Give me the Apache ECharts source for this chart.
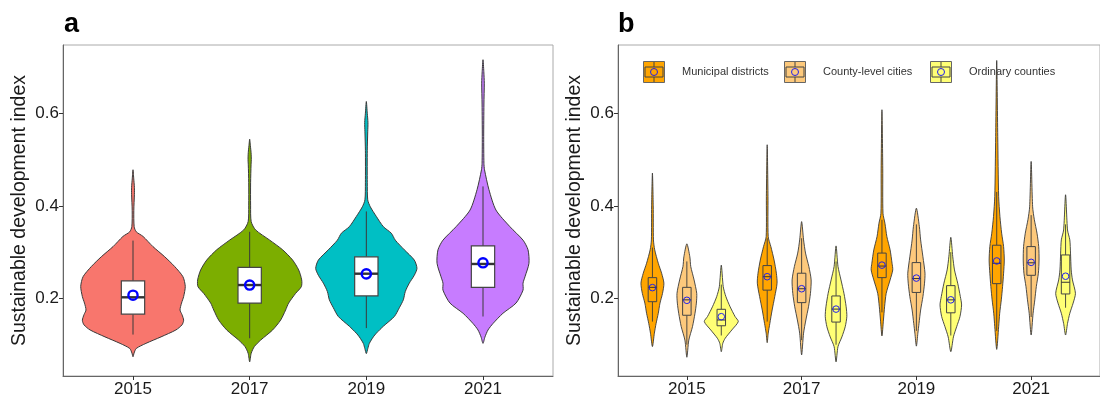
<!DOCTYPE html>
<html><head><meta charset="utf-8">
<script src="https://cdn.jsdelivr.net/npm/echarts@6/dist/echarts.min.js"></script>
<style>html,body{margin:0;padding:0;background:#fff}#c{width:1100px;height:400px}</style>
</head><body><div id="c"></div>
<script>
// ---------- DATA ----------
const years = ['2015', '2017', '2019', '2021'];
const yTicks = [0.2, 0.4, 0.6];
const groupNames = ['Municipal districts', 'County-level cities', 'Ordinary counties'];
const yTitle = 'Sustainable development index';

// Panel a: violin profiles [value, half-width (category units)]
const a2015 = [[0.074,0],[0.082,0.009],[0.092,0.028],[0.103,0.111],[0.117,0.240],[0.132,0.368],[0.143,0.420],[0.153,0.434],[0.165,0.420],[0.175,0.403],[0.190,0.416],[0.204,0.434],[0.226,0.448],[0.247,0.428],[0.269,0.357],[0.290,0.272],[0.312,0.171],[0.334,0.086],[0.344,0.028],[0.355,0.010],[0.390,0.007],[0.425,0.012],[0.440,0.012],[0.460,0.006],[0.478,0]];
const a2017 = [[0.063,0],[0.0815,0.013],[0.096,0.040],[0.110,0.094],[0.132,0.197],[0.1535,0.266],[0.175,0.308],[0.190,0.334],[0.211,0.394],[0.2255,0.443],[0.240,0.446],[0.2616,0.420],[0.283,0.368],[0.305,0.283],[0.3265,0.169],[0.348,0.051],[0.366,0.013],[0.400,0.008],[0.450,0.008],[0.490,0.012],[0.500,0.014],[0.515,0.012],[0.530,0.006],[0.544,0]];
const a2019 = [[0.081,0],[0.092,0.013],[0.103,0.026],[0.117,0.060],[0.125,0.086],[0.140,0.146],[0.161,0.240],[0.180,0.283],[0.197,0.317],[0.215,0.334],[0.233,0.368],[0.250,0.411],[0.265,0.434],[0.283,0.411],[0.305,0.326],[0.326,0.248],[0.341,0.214],[0.355,0.146],[0.377,0.086],[0.398,0.034],[0.413,0.012],[0.450,0.008],[0.520,0.008],[0.560,0.012],[0.580,0.014],[0.600,0.008],[0.6255,0]];
const a2021 = [[0.103,0],[0.117,0.017],[0.132,0.043],[0.146,0.086],[0.168,0.171],[0.190,0.283],[0.218,0.343],[0.233,0.343],[0.247,0.360],[0.276,0.394],[0.305,0.386],[0.326,0.343],[0.355,0.231],[0.391,0.111],[0.435,0.051],[0.478,0.013],[0.492,0.008],[0.550,0.006],[0.620,0.008],[0.665,0.011],[0.690,0.007],[0.7157,0]];
// Panel a box stats: [whisker low, Q1, median, Q3, whisker high] and means
const boxA = [[0.122,0.166,0.2025,0.238,0.325],[0.114,0.190,0.229,0.267,0.344],[0.136,0.2055,0.2535,0.290,0.388],[0.161,0.224,0.2745,0.3135,0.442]];
const meanA = [0.207, 0.229, 0.253, 0.277];

// Panel b: violin profiles
const bMun2015 = [[0.096,0],[0.125,0.017],[0.146,0.032],[0.168,0.051],[0.190,0.066],[0.211,0.088],[0.233,0.100],[0.2545,0.080],[0.276,0.051],[0.305,0.020],[0.3265,0.009],[0.400,0.007],[0.471,0]];
const bMun2017 = [[0.1045,0],[0.125,0.009],[0.146,0.023],[0.175,0.043],[0.204,0.066],[0.233,0.086],[0.2545,0.080],[0.283,0.060],[0.312,0.032],[0.3335,0.009],[0.420,0.007],[0.532,0]];
const bMun2019 = [[0.119,0],[0.1535,0.013],[0.182,0.023],[0.211,0.037],[0.240,0.071],[0.2616,0.094],[0.276,0.088],[0.305,0.071],[0.3335,0.043],[0.3625,0.026],[0.384,0.009],[0.480,0.007],[0.6076,0]];
const bMun2021 = [[0.090,0],[0.139,0.017],[0.168,0.026],[0.197,0.040],[0.2255,0.051],[0.2545,0.060],[0.283,0.066],[0.312,0.060],[0.341,0.043],[0.377,0.028],[0.420,0.017],[0.550,0.009],[0.714,0]];
const bCty2015 = [[0.073,0],[0.110,0.017],[0.139,0.049],[0.168,0.071],[0.190,0.083],[0.211,0.086],[0.240,0.063],[0.269,0.034],[0.290,0.026],[0.318,0]];
const bCty2017 = [[0.078,0],[0.125,0.017],[0.1535,0.037],[0.182,0.060],[0.211,0.077],[0.240,0.083],[0.269,0.063],[0.298,0.034],[0.3265,0.017],[0.366,0]];
const bCty2019 = [[0.097,0],[0.125,0.013],[0.146,0.023],[0.175,0.037],[0.204,0.057],[0.233,0.071],[0.2545,0.075],[0.290,0.057],[0.3265,0.037],[0.355,0.026],[0.395,0]];
const bCty2021 = [[0.121,0],[0.168,0.017],[0.197,0.032],[0.2255,0.045],[0.2545,0.063],[0.283,0.069],[0.312,0.066],[0.341,0.051],[0.370,0.028],[0.398,0.013],[0.496,0]];
const bOrd2015 = [[0.085,0],[0.103,0.013],[0.114,0.034],[0.132,0.092],[0.150,0.148],[0.161,0.120],[0.182,0.077],[0.204,0.040],[0.2255,0.017],[0.272,0]];
const bOrd2017 = [[0.063,0],[0.096,0.017],[0.117,0.051],[0.139,0.080],[0.161,0.094],[0.182,0.088],[0.211,0.069],[0.240,0.043],[0.269,0.017],[0.3135,0]];
const bOrd2019 = [[0.085,0],[0.117,0.023],[0.139,0.051],[0.161,0.080],[0.186,0.094],[0.204,0.083],[0.233,0.060],[0.2616,0.032],[0.290,0.017],[0.332,0]];
const bOrd2021 = [[0.121,0],[0.146,0.017],[0.168,0.037],[0.190,0.066],[0.211,0.086],[0.240,0.060],[0.2616,0.049],[0.298,0.043],[0.3265,0.037],[0.348,0.017],[0.424,0]];
// Panel b box stats [whisker low, Q1, median, Q3, whisker high] and means
const boxMun = [[0.150,0.193,0.224,0.245,0.310],[0.150,0.218,0.247,0.271,0.330],[0.170,0.245,0.270,0.298,0.370],[0.130,0.232,0.276,0.315,0.430]];
const boxCty = [[0.100,0.1637,0.197,0.224,0.280],[0.110,0.191,0.221,0.2545,0.330],[0.130,0.213,0.243,0.2775,0.360],[0.160,0.250,0.277,0.312,0.380]];
const boxOrd = [[0.120,0.141,0.1535,0.1766,0.230],[0.100,0.149,0.177,0.2054,0.280],[0.120,0.169,0.197,0.2277,0.300],[0.180,0.2097,0.235,0.294,0.360]];
const meanMun = [0.2234, 0.247, 0.272, 0.281];
const meanCty = [0.196, 0.221, 0.244, 0.278];
const meanOrd = [0.1606, 0.177, 0.197, 0.248];

// ---------- STYLE ----------
const FONT = 'Liberation Sans, Arial, sans-serif';
const colorsA = ['#F8766D', '#7CAE00', '#00BFC4', '#C77CFF'];
const colorsB = ['#FFA500', '#FDC97C', '#FFFF75'];
const Y_MIN = 0.0325, Y_MAX = 0.7475;

function makeRender(profiles, boxes, means, offset, fills, st) {
  return function (params, api) {
    const i = params.dataIndex;
    const xc = api.value(0) + offset;
    const prof = profiles[i];
    const pts = [];
    for (let k = 0; k < prof.length; k++) pts.push(api.coord([xc + prof[k][1], prof[k][0]]));
    for (let k = prof.length - 2; k >= 1; k--) pts.push(api.coord([xc - prof[k][1], prof[k][0]]));
    const b = boxes[i];
    const pLow = api.coord([xc, b[0]]), pQ1 = api.coord([xc, b[1]]), pMed = api.coord([xc, b[2]]), pQ3 = api.coord([xc, b[3]]), pHigh = api.coord([xc, b[4]]);
    const xl = api.coord([xc - st.boxHalf, b[2]])[0], xr = api.coord([xc + st.boxHalf, b[2]])[0];
    const pMean = api.coord([xc, means[i]]);
    const fill = Array.isArray(fills) ? fills[i] : fills;
    return {
      type: 'group',
      children: [
        { type: 'polygon', shape: { points: pts, smooth: 0.25 }, style: { fill: fill, stroke: '#3a3a3a', lineWidth: st.outlineW } },
        { type: 'line', shape: { x1: pQ3[0], y1: pQ3[1], x2: pHigh[0], y2: pHigh[1] }, style: { stroke: '#3a3a3a', lineWidth: st.whiskerW } },
        { type: 'line', shape: { x1: pQ1[0], y1: pQ1[1], x2: pLow[0], y2: pLow[1] }, style: { stroke: '#3a3a3a', lineWidth: st.whiskerW } },
        { type: 'rect', shape: { x: xl, y: pQ3[1], width: xr - xl, height: pQ1[1] - pQ3[1] }, style: { fill: st.boxFill || fill, stroke: '#444', lineWidth: st.boxW } },
        { type: 'line', shape: { x1: xl, y1: pMed[1], x2: xr, y2: pMed[1] }, style: { stroke: '#333', lineWidth: st.medW } },
        { type: 'circle', shape: { cx: pMean[0], cy: pMean[1], r: st.meanR }, style: { fill: 'none', stroke: st.meanColor, lineWidth: st.meanW } }
      ]
    };
  };
}

function xAxis(gi) {
  return {
    gridIndex: gi, type: 'value', min: -0.6, max: 3.6,
    axisLine: { show: true, onZero: false, lineStyle: { color: '#666', width: 1 } },
    axisTick: { show: true, customValues: [0, 1, 2, 3], length: 4, lineStyle: { color: '#333' } },
    axisLabel: { customValues: [0, 1, 2, 3], formatter: v => years[Math.round(v)], fontSize: 17, color: '#1a1a1a', fontFamily: FONT, margin: 5 },
    splitLine: { show: false }
  };
}
function yAxis(gi) {
  return {
    gridIndex: gi, type: 'value', min: Y_MIN, max: Y_MAX,
    axisLine: { show: true, onZero: false, lineStyle: { color: '#666', width: 1 } },
    axisTick: { show: true, customValues: yTicks, length: 4, lineStyle: { color: '#333' } },
    axisLabel: { customValues: yTicks, formatter: v => v.toFixed(1), fontSize: 17, color: '#1a1a1a', fontFamily: FONT, margin: 4 },
    splitLine: { show: false },
    name: yTitle, nameLocation: 'middle', nameGap: 33,
    nameTextStyle: { fontSize: 19.5, color: '#1a1a1a', fontFamily: FONT }
  };
}

const idx = years.map((y, i) => [i, 0.2]);
const stA = { boxHalf: 0.1, outlineW: 1, whiskerW: 1, boxW: 1.2, medW: 2.4, meanR: 4.6, meanW: 2.4, meanColor: '#0000ff', boxFill: '#ffffff' };
const stB = { boxHalf: 0.037, outlineW: 0.9, whiskerW: 0.9, boxW: 1, medW: 1, meanR: 3.3, meanW: 1, meanColor: '#2020ee' };

const series = [
  { type: 'custom', xAxisIndex: 0, yAxisIndex: 0, data: idx, renderItem: makeRender([a2015, a2017, a2019, a2021], boxA, meanA, 0, colorsA, stA) },
  { type: 'custom', xAxisIndex: 1, yAxisIndex: 1, data: idx, renderItem: makeRender([bMun2015, bMun2017, bMun2019, bMun2021], boxMun, meanMun, -0.3, colorsB[0], stB) },
  { type: 'custom', xAxisIndex: 1, yAxisIndex: 1, data: idx, renderItem: makeRender([bCty2015, bCty2017, bCty2019, bCty2021], boxCty, meanCty, 0, colorsB[1], stB) },
  { type: 'custom', xAxisIndex: 1, yAxisIndex: 1, data: idx, renderItem: makeRender([bOrd2015, bOrd2017, bOrd2019, bOrd2021], boxOrd, meanOrd, 0.3, colorsB[2], stB) }
];

// legend (panel b) built from group names
const legendX = [654, 795, 941], legendY = 72;
const legendGraphics = [];
groupNames.forEach((n, i) => {
  const cx = legendX[i];
  legendGraphics.push(
    { type: 'rect', shape: { x: cx - 10.5, y: legendY - 10.5, width: 21, height: 21 }, style: { fill: colorsB[i], stroke: '#666', lineWidth: 1 } },
    { type: 'rect', shape: { x: cx - 9, y: legendY - 5, width: 18, height: 10 }, style: { fill: 'none', stroke: '#444', lineWidth: 1 } },
    { type: 'line', shape: { x1: cx, y1: legendY - 10, x2: cx, y2: legendY - 5 }, style: { stroke: '#444', lineWidth: 1 } },
    { type: 'line', shape: { x1: cx, y1: legendY + 5, x2: cx, y2: legendY + 10 }, style: { stroke: '#444', lineWidth: 1 } },
    { type: 'circle', shape: { cx: cx, cy: legendY, r: 3.5 }, style: { fill: 'none', stroke: '#2020ee', lineWidth: 1 } },
    { type: 'text', x: cx + 28, y: legendY, style: { text: n, font: '11px ' + FONT, fill: '#333', verticalAlign: 'middle', align: 'left' } }
  );
});

const option = {
  animation: false,
  backgroundColor: '#fff',
  grid: [
    { left: 63, top: 45, width: 490, height: 331, show: true, borderColor: '#aaa', borderWidth: 1, containLabel: false },
    { left: 618, top: 45, width: 490, height: 331, show: true, borderColor: '#aaa', borderWidth: 1, containLabel: false }
  ],
  xAxis: [xAxis(0), xAxis(1)],
  yAxis: [yAxis(0), yAxis(1)],
  series: series,
  graphic: [
    { type: 'text', x: 64, y: 38, style: { text: 'a', font: 'bold 27px ' + FONT, fill: '#000', verticalAlign: 'bottom' } },
    { type: 'text', x: 618, y: 38, style: { text: 'b', font: 'bold 27px ' + FONT, fill: '#000', verticalAlign: 'bottom' } }
  ].concat(legendGraphics)
};

const chart = echarts.init(document.getElementById('c'), null, { renderer: 'canvas' });
chart.setOption(option);
</script>
</body></html>
